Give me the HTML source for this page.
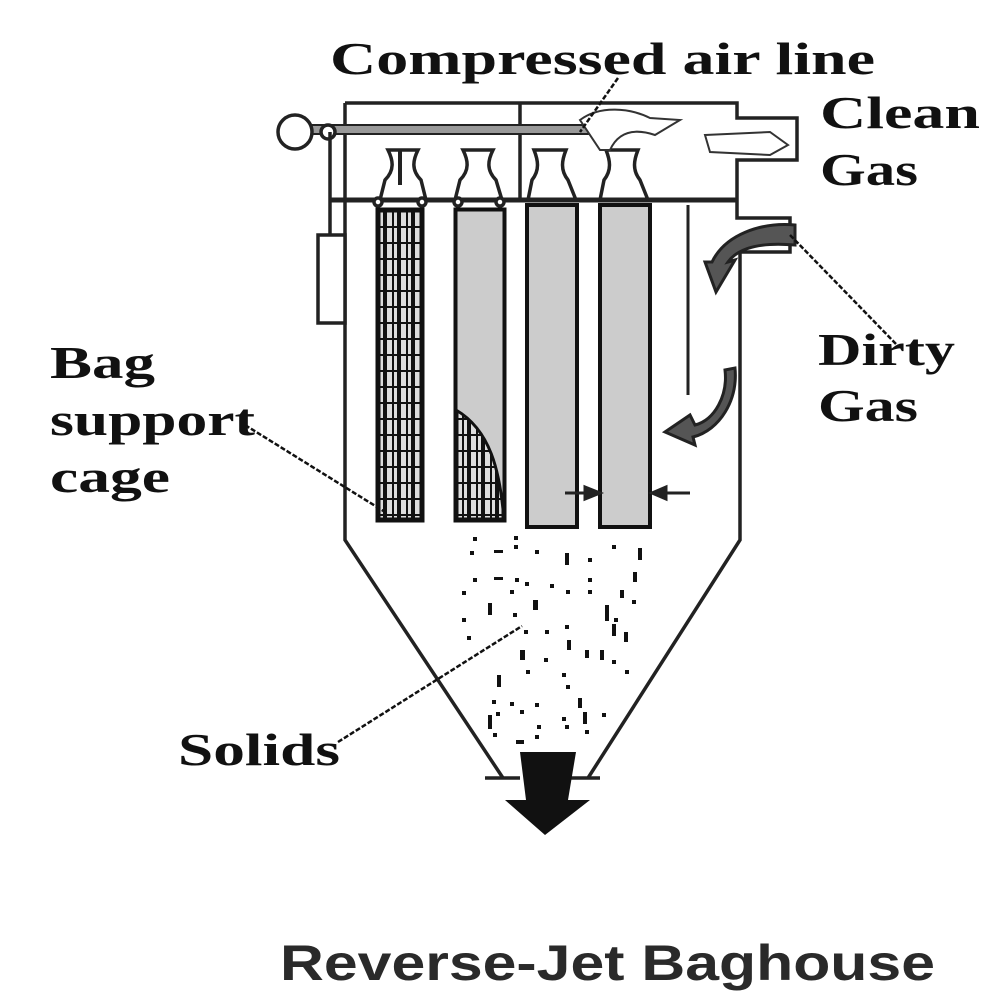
<!DOCTYPE html>
<html><head><meta charset="utf-8"><style>
html,body{margin:0;padding:0;background:#fff;}
svg{display:block}
.lb{font-family:"Liberation Serif",serif;font-weight:bold;fill:#111;font-size:46px}
</style></head><body>
<svg width="1000" height="1000" viewBox="0 0 1000 1000" xmlns="http://www.w3.org/2000/svg">
<defs>
<pattern id="grid" x="378" y="210" width="14" height="16" patternUnits="userSpaceOnUse">
<rect width="14" height="16" fill="#ddd"/>
<path d="M0 0H14M0 0V16M7 0V16" stroke="#111" stroke-width="4" fill="none"/>
</pattern>
</defs>
<g fill="none" stroke="#222" stroke-width="3.5">
<path d="M345 103 H737 V118 H797 V160 H737 V218 H790 V252 H740 V540 L588 778"/>
<path d="M345 103 V540 L503 778"/>
<line x1="520" y1="103" x2="520" y2="200"/>
<line x1="485" y1="778" x2="520" y2="778"/>
<line x1="570" y1="778" x2="600" y2="778"/>
<line x1="330" y1="200" x2="737" y2="200" stroke-width="5"/>
<rect x="310" y="125" width="290" height="9" fill="#999" stroke-width="2"/>
<circle cx="295" cy="132" r="17" fill="#fff"/>
<circle cx="328" cy="132" r="7" fill="#fff"/>
<line x1="330" y1="132" x2="330" y2="235"/>
<rect x="318" y="235" width="27" height="88" fill="#fff"/>
<path d="M380 200 L385 180 C395 170 393 160 388 150 H418 C413 160 411 170 421 180 L426 200"/>
<path d="M455 200 L460 180 C470 170 468 160 463 150 H493 C488 160 486 170 496 180 L502 200"/>
<path d="M528 200 L532 180 C540 170 538 160 534 150 H566 C562 160 560 170 568 180 L576 200"/>
<path d="M600 200 L604 180 C612 170 610 160 606 150 H638 C634 160 632 170 640 180 L648 200"/>
<circle cx="378" cy="202" r="4" fill="#fff"/><circle cx="422" cy="202" r="4" fill="#fff"/>
<circle cx="458" cy="202" r="4" fill="#fff"/><circle cx="500" cy="202" r="4" fill="#fff"/>
<line x1="400" y1="150" x2="400" y2="185" stroke-width="4"/>
</g>
<rect x="378" y="210" width="44" height="310" fill="url(#grid)" stroke="#111" stroke-width="5"/>
<rect x="456" y="210" width="48" height="310" fill="url(#grid)" stroke="#111" stroke-width="5"/>
<path d="M456 210 H504 V520 C500 470 490 430 456 410 Z" fill="#ccc" stroke="#111" stroke-width="3"/>
<rect x="527" y="205" width="50" height="322" fill="#ccc" stroke="#111" stroke-width="4"/>
<rect x="600" y="205" width="50" height="322" fill="#ccc" stroke="#111" stroke-width="4"/>
<line x1="688" y1="205" x2="688" y2="395" stroke="#222" stroke-width="3"/>
<g stroke="#222" stroke-width="3" fill="#222">
<line x1="565" y1="493" x2="600" y2="493"/><path d="M585 487 L600 493 L585 499Z"/>
<line x1="690" y1="493" x2="652" y2="493"/><path d="M666 487 L652 493 L666 499Z"/>
</g>
<path d="M580 120 C600 105 630 108 650 118 L680 120 L655 135 C640 130 620 128 610 150 L600 150 Z" fill="#fff" stroke="#333" stroke-width="2"/>
<path d="M705 135 L770 132 L788 145 L770 155 L710 152 Z" fill="#fff" stroke="#333" stroke-width="2"/>
<path d="M795 225 C760 222 725 235 712 262 L705 262 L716 292 L735 260 L728 262 C738 248 760 242 795 245 Z" fill="#555" stroke="#222" stroke-width="3"/>
<path d="M725 370 C728 395 715 420 695 425 L690 415 L665 432 L695 445 L693 437 C720 430 738 400 735 368 Z" fill="#555" stroke="#222" stroke-width="3"/>
<g fill="#111">
<rect x="473" y="537" width="4" height="4"/><rect x="514" y="536" width="4" height="4"/><rect x="470" y="551" width="4" height="4"/><rect x="494" y="550" width="9" height="3"/><rect x="514" y="545" width="4" height="4"/><rect x="535" y="550" width="4" height="4"/><rect x="565" y="553" width="4" height="12"/><rect x="588" y="558" width="4" height="4"/><rect x="612" y="545" width="4" height="4"/><rect x="638" y="548" width="4" height="12"/>
<rect x="473" y="578" width="4" height="4"/><rect x="494" y="577" width="9" height="3"/><rect x="515" y="578" width="4" height="4"/><rect x="525" y="582" width="4" height="4"/><rect x="550" y="584" width="4" height="4"/><rect x="588" y="578" width="4" height="4"/><rect x="633" y="572" width="4" height="10"/><rect x="462" y="591" width="4" height="4"/><rect x="510" y="590" width="4" height="4"/><rect x="566" y="590" width="4" height="4"/><rect x="588" y="590" width="4" height="4"/><rect x="620" y="590" width="4" height="8"/><rect x="632" y="600" width="4" height="4"/>
<rect x="488" y="603" width="4" height="12"/><rect x="533" y="600" width="5" height="10"/><rect x="605" y="605" width="4" height="16"/><rect x="462" y="618" width="4" height="4"/><rect x="513" y="613" width="4" height="4"/><rect x="614" y="618" width="4" height="4"/><rect x="612" y="624" width="4" height="12"/><rect x="467" y="636" width="4" height="4"/><rect x="524" y="630" width="4" height="4"/><rect x="545" y="630" width="4" height="4"/><rect x="565" y="625" width="4" height="4"/><rect x="567" y="640" width="4" height="10"/><rect x="624" y="632" width="4" height="10"/>
<rect x="520" y="650" width="5" height="10"/><rect x="544" y="658" width="4" height="4"/><rect x="585" y="650" width="4" height="8"/><rect x="600" y="650" width="4" height="10"/><rect x="612" y="660" width="4" height="4"/><rect x="526" y="670" width="4" height="4"/><rect x="562" y="673" width="4" height="4"/><rect x="497" y="675" width="4" height="12"/><rect x="625" y="670" width="4" height="4"/>
<rect x="566" y="685" width="4" height="4"/><rect x="492" y="700" width="4" height="4"/><rect x="510" y="702" width="4" height="4"/><rect x="535" y="703" width="4" height="4"/><rect x="578" y="698" width="4" height="10"/><rect x="496" y="712" width="4" height="4"/><rect x="520" y="710" width="4" height="4"/><rect x="562" y="717" width="4" height="4"/><rect x="583" y="712" width="4" height="12"/><rect x="602" y="713" width="4" height="4"/>
<rect x="488" y="715" width="4" height="14"/><rect x="493" y="733" width="4" height="4"/><rect x="537" y="725" width="4" height="4"/><rect x="565" y="725" width="4" height="4"/><rect x="585" y="730" width="4" height="4"/><rect x="516" y="740" width="8" height="4"/><rect x="535" y="735" width="4" height="4"/>
</g>
<path d="M520 752 H576 L568 800 H590 L545 835 L505 800 L526 800 Z" fill="#111"/>
<g stroke="#111" stroke-width="2.5" fill="none" stroke-dasharray="5 2">
<line x1="618" y1="78" x2="580" y2="132"/>
<line x1="790" y1="235" x2="897" y2="345"/>
<line x1="245" y1="425" x2="385" y2="512"/>
<line x1="338" y1="742" x2="522" y2="626"/>
</g>
<text class="lb" x="330" y="74" textLength="545" lengthAdjust="spacingAndGlyphs">Compressed air line</text>
<text class="lb" x="820" y="128" textLength="160" lengthAdjust="spacingAndGlyphs">Clean</text>
<text class="lb" x="820" y="185" textLength="98" lengthAdjust="spacingAndGlyphs">Gas</text>
<text class="lb" x="818" y="365" textLength="137" lengthAdjust="spacingAndGlyphs">Dirty</text>
<text class="lb" x="818" y="421" textLength="100" lengthAdjust="spacingAndGlyphs">Gas</text>
<text class="lb" x="50" y="378" textLength="105" lengthAdjust="spacingAndGlyphs">Bag</text>
<text class="lb" x="50" y="435" textLength="205" lengthAdjust="spacingAndGlyphs">support</text>
<text class="lb" x="50" y="492" textLength="120" lengthAdjust="spacingAndGlyphs">cage</text>
<text class="lb" x="178" y="765" textLength="162" lengthAdjust="spacingAndGlyphs">Solids</text>
<text x="280" y="980" font-family="Liberation Sans, sans-serif" font-weight="bold" font-size="50" fill="#2a2a2a" textLength="655" lengthAdjust="spacingAndGlyphs">Reverse-Jet Baghouse</text>
</svg>
</body></html>
